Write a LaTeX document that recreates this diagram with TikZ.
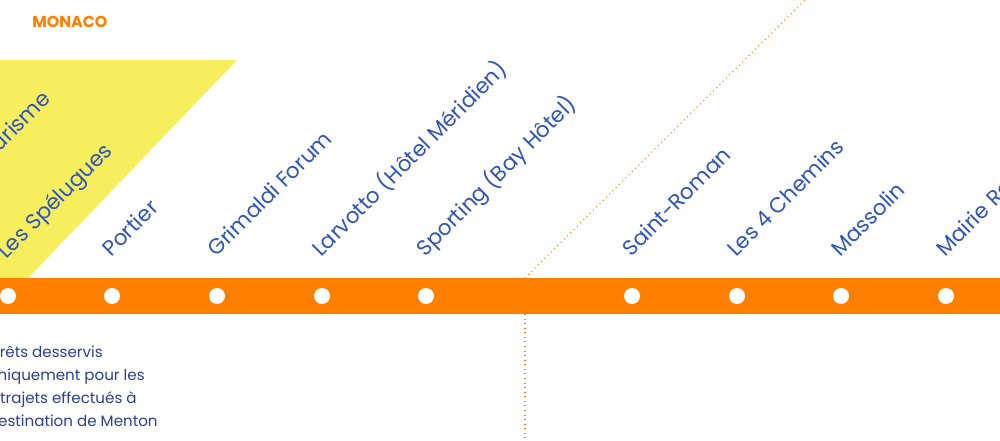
\documentclass[tikz,border=0pt]{standalone}
\usepackage{fontspec}
\setmainfont{Poppins}
\definecolor{ora}{HTML}{FF7F00}
\definecolor{yel}{HTML}{F7EE5E}
\definecolor{blu}{HTML}{2F55B8}
\definecolor{dblu}{HTML}{2A3F8F}
\begin{document}
\begin{tikzpicture}[x=0.2mm,y=-0.2mm,
  stop/.style={circle,fill=white,minimum size=3.2mm,inner sep=0pt},
  lbl/.style={text=blu,font=\fontsize{12.2}{13}\selectfont,rotate=45,anchor=base west,inner sep=0pt},
  note/.style={text=dblu,font=\fontsize{8.6}{10}\selectfont,anchor=base west,inner sep=0pt}]
\useasboundingbox (0,0) rectangle (1000,441);
\clip (0,0) rectangle (1000,441);
\fill[yel] (-5,60) -- (237,60) -- (28,278) -- (-5,278) -- cycle;
\draw[ora,dotted,line width=0.6pt] (525,278) -- (805,0);
\draw[ora,dotted,line width=0.6pt] (525,314) -- (525,441);
\fill[ora] (-5,278) rectangle (1005,314);
\node[anchor=base west,text=ora,font=\fontsize{9}{10}\selectfont\bfseries,inner sep=0pt] (t) at (32,28) {MONACO};
\foreach \x/\n in {8/a,112/b,217/c,322/d,426/e,632/f,737/g,841/h,946/i}
  \node[stop] (\n) at (\x,296) {};
\node[lbl,anchor=base east] (l0) at (52,100) {Tourisme};
\node[lbl] (l1) at (6,260) {Les Spélugues};
\node[lbl] (l2) at (111,258) {Portier};
\node[lbl] (l3) at (216,258) {Grimaldi Forum};
\node[lbl] (l4) at (321,258) {Larvotto (Hôtel Méridien)};
\node[lbl] (l5) at (425,258) {Sporting (Bay Hôtel)};
\node[lbl] (l6) at (631,258) {Saint-Roman};
\node[lbl] (l7) at (736,258) {Les 4 Chemins};
\node[lbl] (l8) at (840,258) {Massolin};
\node[lbl] (l9) at (945,258) {Mairie Roquebrune};
\node[note,anchor=base east] (n1) at (103,357) {Arrêts desservis};
\node[note,anchor=base east] (n2) at (145,380) {uniquement pour les};
\node[note,anchor=base east] (n3) at (137,403) {trajets effectués à};
\node[note,anchor=base east] (n4) at (158,426) {destination de Menton};
\end{tikzpicture}
\end{document}
